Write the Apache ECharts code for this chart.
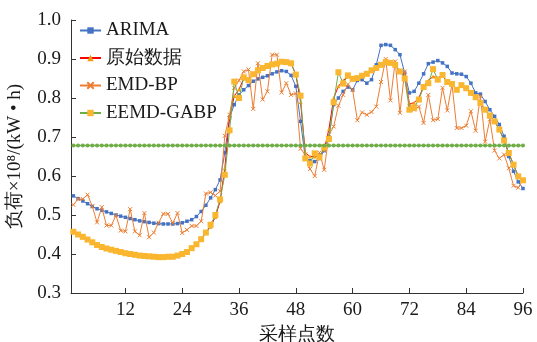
<!DOCTYPE html>
<html><head><meta charset="utf-8">
<script src="https://cdn.jsdelivr.net/npm/echarts@6/dist/echarts.min.js"></script>
<style>html,body{margin:0;padding:0;background:#fff}#c{width:537px;height:342px}</style>
</head><body><div id="c"></div>
<script>
var seriesNames = ['ARIMA', '原始数据', 'EMD-BP', 'EEMD-GABP'];
var xTicks = [12, 24, 36, 48, 60, 72, 84, 96];
var yTicks = [0.3, 0.4, 0.5, 0.6, 0.7, 0.8, 0.9, 1.0];

var arima = [0.549,0.542,0.536,0.529,0.522,0.516,0.512,0.508,0.504,0.500,0.497,0.494,0.491,0.488,0.485,0.483,0.481,0.479,0.478,0.477,0.477,0.477,0.478,0.480,0.484,0.488,0.496,0.509,0.525,0.544,0.565,0.590,0.660,0.750,0.783,0.808,0.821,0.832,0.843,0.849,0.853,0.857,0.862,0.867,0.870,0.868,0.858,0.830,0.740,0.646,0.639,0.637,0.645,0.665,0.700,0.783,0.800,0.817,0.828,0.821,0.845,0.847,0.838,0.847,0.885,0.935,0.937,0.935,0.924,0.911,0.864,0.813,0.817,0.838,0.862,0.888,0.892,0.896,0.890,0.881,0.864,0.862,0.861,0.855,0.838,0.813,0.810,0.791,0.770,0.753,0.732,0.702,0.650,0.612,0.585,0.568];
var original = [0.457,0.450,0.444,0.437,0.430,0.423,0.418,0.414,0.411,0.408,0.405,0.402,0.400,0.398,0.396,0.395,0.394,0.393,0.392,0.392,0.393,0.393,0.396,0.400,0.405,0.415,0.425,0.438,0.455,0.470,0.495,0.535,0.620,0.750,0.805,0.822,0.850,0.846,0.861,0.871,0.877,0.882,0.886,0.888,0.893,0.892,0.889,0.860,0.790,0.660,0.650,0.650,0.652,0.668,0.720,0.800,0.830,0.845,0.855,0.849,0.851,0.857,0.862,0.871,0.877,0.885,0.892,0.890,0.885,0.868,0.855,0.785,0.788,0.800,0.830,0.845,0.855,0.852,0.857,0.841,0.836,0.823,0.832,0.825,0.813,0.802,0.787,0.770,0.755,0.740,0.719,0.691,0.659,0.629,0.599,0.589];
var emdbp = [0.526,0.541,0.541,0.552,0.522,0.481,0.520,0.473,0.473,0.499,0.460,0.458,0.515,0.458,0.448,0.505,0.443,0.455,0.480,0.503,0.503,0.479,0.505,0.454,0.462,0.472,0.472,0.484,0.555,0.558,0.550,0.561,0.703,0.757,0.826,0.845,0.868,0.873,0.772,0.889,0.796,0.817,0.911,0.911,0.814,0.838,0.808,0.812,0.670,0.655,0.618,0.600,0.660,0.616,0.706,0.727,0.780,0.808,0.835,0.821,0.743,0.763,0.757,0.764,0.778,0.841,0.900,0.794,0.894,0.762,0.868,0.780,0.770,0.778,0.736,0.808,0.743,0.746,0.826,0.768,0.835,0.723,0.723,0.729,0.766,0.716,0.805,0.688,0.745,0.665,0.645,0.655,0.620,0.575,0.570,0.590];
var eemdgabp = [0.457,0.450,0.444,0.437,0.430,0.423,0.418,0.414,0.411,0.408,0.405,0.402,0.400,0.398,0.396,0.395,0.394,0.393,0.392,0.392,0.393,0.393,0.396,0.400,0.405,0.415,0.425,0.438,0.455,0.475,0.500,0.540,0.603,0.717,0.842,0.800,0.853,0.846,0.861,0.871,0.877,0.882,0.886,0.888,0.893,0.892,0.889,0.860,0.806,0.645,0.632,0.658,0.648,0.674,0.695,0.789,0.866,0.837,0.858,0.849,0.851,0.857,0.862,0.871,0.877,0.885,0.892,0.890,0.885,0.868,0.850,0.770,0.775,0.796,0.828,0.838,0.874,0.847,0.859,0.841,0.836,0.821,0.833,0.825,0.813,0.802,0.787,0.770,0.755,0.740,0.719,0.691,0.659,0.629,0.599,0.589];
var flatLine = [0.678,0.678,0.678,0.678,0.678,0.678,0.678,0.678,0.678,0.678,0.678,0.678,0.678,0.678,0.678,0.678,0.678,0.678,0.678,0.678,0.678,0.678,0.678,0.678,0.678,0.678,0.678,0.678,0.678,0.678,0.678,0.678,0.678,0.678,0.678,0.678,0.678,0.678,0.678,0.678,0.678,0.678,0.678,0.678,0.678,0.678,0.678,0.678,0.678,0.678,0.678,0.678,0.678,0.678,0.678,0.678,0.678,0.678,0.678,0.678,0.678,0.678,0.678,0.678,0.678,0.678,0.678,0.678,0.678,0.678,0.678,0.678,0.678,0.678,0.678,0.678,0.678,0.678,0.678,0.678,0.678,0.678,0.678,0.678,0.678,0.678,0.678,0.678,0.678,0.678,0.678,0.678,0.678,0.678,0.678,0.678];

function pairs(vals) { return vals.map(function (v, k) { return [k + 1, v]; }); }

var FONT = 'Liberation Serif';
var TXT = '#1a1a1a';
var chart = echarts.init(document.getElementById('c'), null, { renderer: 'canvas' });
chart.setOption({
  animation: false,
  backgroundColor: '#fff',
  textStyle: { fontFamily: FONT },
  grid: { left: 71, right: 14, top: 20, bottom: 49, containLabel: false, outerBoundsMode: 'none' },
  legend: {
    data: seriesNames,
    orient: 'vertical', left: 74, top: 16,
    itemWidth: 21, itemHeight: 8, itemGap: 8.5,
    textStyle: { fontFamily: FONT, fontSize: 19, color: TXT }
  },
  xAxis: {
    type: 'value', min: 0.5, max: 96,
    name: '采样点数', nameLocation: 'middle', nameGap: 33,
    nameTextStyle: { fontFamily: FONT, fontSize: 19, color: TXT },
    axisLine: { lineStyle: { color: '#333', width: 1 } },
    axisTick: { inside: true, length: 5, customValues: xTicks, lineStyle: { color: '#333' } },
    axisLabel: { customValues: xTicks, fontFamily: FONT, fontSize: 19, color: TXT, margin: 8 },
    splitLine: { show: false }
  },
  yAxis: {
    type: 'value', min: 0.3, max: 1.0, interval: 0.1,
    name: '负荷×10⁸/(kW • h)', nameLocation: 'middle', nameGap: 46, nameRotate: 90,
    nameTextStyle: { fontFamily: FONT, fontSize: 19, color: TXT },
    axisLine: { show: true, lineStyle: { color: '#333', width: 1 } },
    axisTick: { show: true, inside: true, length: 5, lineStyle: { color: '#333' } },
    axisLabel: { fontFamily: FONT, fontSize: 19, color: TXT, margin: 10,
      formatter: function (v) { return v.toFixed(1); } },
    splitLine: { show: false }
  },
  series: [
    { name: 'ARIMA', type: 'line', data: pairs(arima), symbol: 'rect', symbolSize: 3.5,
      lineStyle: { color: '#4472C4', width: 1 }, itemStyle: { color: '#4472C4' }, z: 2 },
    { name: '原始数据', type: 'line', data: pairs(original), symbol: 'triangle', symbolSize: 4,
      lineStyle: { color: '#FF0000', width: 1 }, itemStyle: { color: '#F39C12' }, z: 3 },
    { name: 'EMD-BP', type: 'line', data: pairs(emdbp), symbol: 'path://M0,0L10,10M10,0L0,10', symbolSize: 4,
      lineStyle: { color: '#ED7D31', width: 1 }, itemStyle: { color: 'none', borderColor: '#ED7D31', borderWidth: 1 }, z: 4 },
    { name: 'EEMD-GABP', type: 'line', data: pairs(eemdgabp), symbol: 'rect', symbolSize: 6,
      lineStyle: { color: '#70AD47', width: 1 }, itemStyle: { color: '#F9B62E' }, z: 5 },
    { name: 'flat', type: 'line', data: pairs(flatLine), symbol: 'circle', symbolSize: 4,
      lineStyle: { color: '#70AD47', width: 1.5 }, itemStyle: { color: '#70AD47' }, z: 6 }
  ]
});
</script></body></html>
